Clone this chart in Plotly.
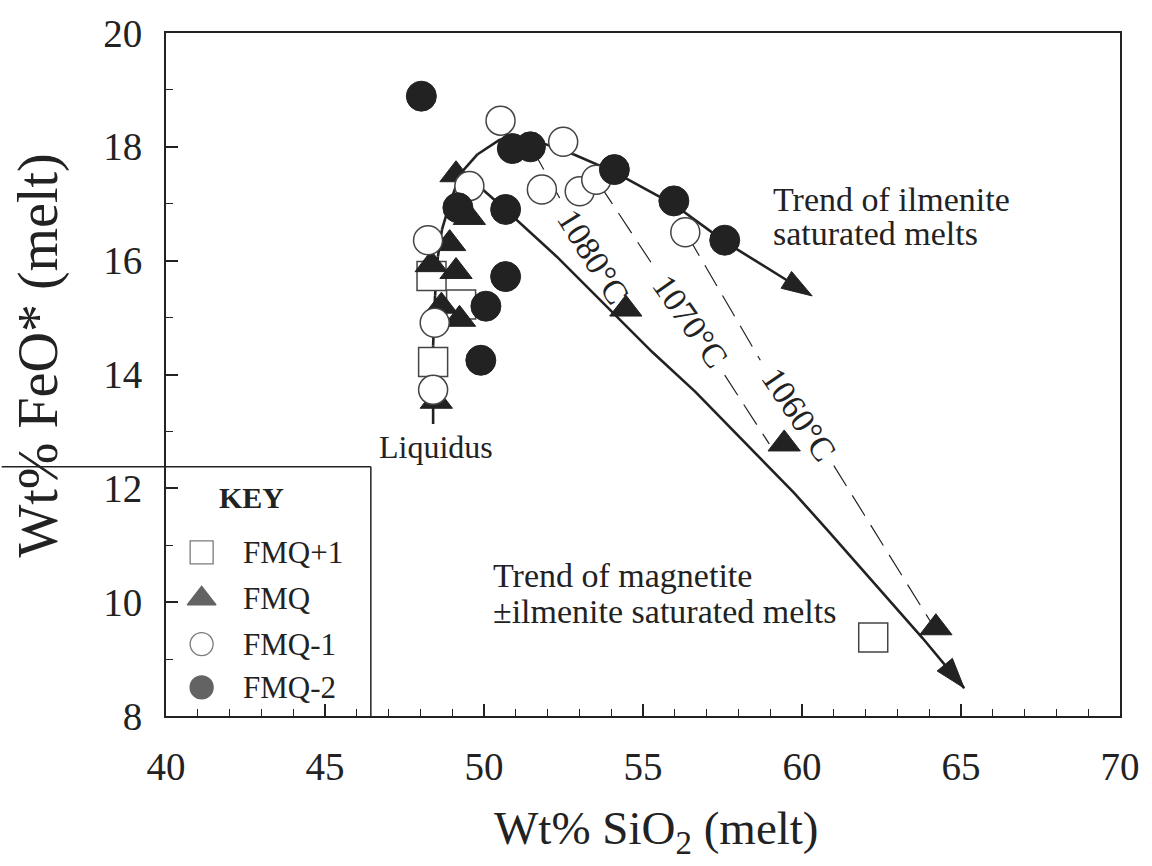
import plotly.graph_objects as go

# ---------------- data (Wt% SiO2, Wt% FeO*) ----------------
# FMQ+1 (open squares)
fmq_p1_sio2 = [48.35, 49.28, 48.40, 62.24]
fmq_p1_feo = [15.73, 15.23, 14.22, 9.38]

# FMQ (filled triangles)
fmq_sio2 = [49.12, 49.54, 48.92, 49.12, 48.66, 49.23, 48.50, 48.34, 54.46, 59.44, 64.21]
fmq_feo = [17.51, 16.76, 16.30, 15.81, 15.20, 14.97, 13.53, 15.93, 15.15, 12.78, 9.55]

# FMQ-1 (open circles)
fmq_m1_sio2 = [50.52, 52.49, 51.82, 53.01, 53.53, 56.33, 49.54, 48.24, 48.45, 48.40]
fmq_m1_feo = [18.46, 18.09, 17.25, 17.22, 17.42, 16.50, 17.31, 16.36, 14.91, 13.73]

# FMQ-2 (filled circles)
fmq_m2_sio2 = [48.03, 50.89, 51.46, 54.10, 55.97, 57.57, 49.18, 50.68, 50.68, 50.06, 49.90]
fmq_m2_feo = [18.89, 17.97, 18.00, 17.60, 17.05, 16.36, 16.93, 16.90, 15.72, 15.20, 14.25]

# Trend curves
ilm_trend_sio2 = [48.40, 48.40, 48.46, 48.55, 48.68, 48.93, 49.27, 49.80, 50.51, 51.20,
                  51.82, 52.81, 54.09, 55.96, 57.58, 60.32]
ilm_trend_feo = [13.13, 14.51, 15.38, 16.07, 16.55, 17.02, 17.54, 17.87, 18.13, 18.16,
                 18.07, 17.87, 17.56, 16.99, 16.33, 15.38]
mag_trend_sio2 = [49.80, 50.67, 52.29, 53.53, 55.30, 56.64, 59.75, 60.78, 62.24, 63.79, 65.10]
mag_trend_feo = [17.33, 16.90, 16.07, 15.38, 14.39, 13.70, 11.92, 11.28, 10.36, 9.37, 8.49]

# Isotherms (dashed; None = gap for the label)
iso_1080_sio2 = [51.51, 52.38]
iso_1080_feo = [17.97, 17.10]
iso_1070_sio2 = [53.62, 55.30, None, 57.57, 58.97]
iso_1070_feo = [17.35, 15.93, None, 13.99, 12.78]
iso_1060_sio2 = [56.39, 58.69, None, 61.00, 64.04]
iso_1060_feo = [16.45, 14.25, None, 12.40, 9.66]

iso_labels = ["1080°C", "1070°C", "1060°C"]
iso_label_sio2 = [53.43, 56.49, 59.91]
iso_label_feo = [16.07, 14.93, 13.30]
iso_label_angle = [58, 55, 56]

x_ticks = [40, 45, 50, 55, 60, 65, 70]
y_ticks = [8, 10, 12, 14, 16, 18, 20]

key_labels = ["FMQ+1", "FMQ", "FMQ-1", "FMQ-2"]

# ---------------- styling ----------------
INK = "#222222"
FONT = "Liberation Serif"
W, H = 1152, 866
ML, MR, MT, MB = 166, 22, 23, 150
PW, PH = W - ML - MR, H - MT - MB


def px2paper(px, py):
    return (px - ML) / PW, (H - MB - py) / PH


fig = go.Figure()

# trend lines with arrow heads at their ends
for xs, ys in [(ilm_trend_sio2, ilm_trend_feo), (mag_trend_sio2, mag_trend_feo)]:
    n = len(xs)
    fig.add_trace(go.Scatter(
        x=xs, y=ys, mode="lines+markers", showlegend=False, hoverinfo="skip",
        line=dict(color=INK, width=2.6),
        marker=dict(symbol="arrow", angleref="previous", size=[0] * (n - 1) + [32],
                    color=INK, opacity=1, line=dict(width=1, color=INK))))

for xs, ys in [(iso_1080_sio2, iso_1080_feo), (iso_1070_sio2, iso_1070_feo),
               (iso_1060_sio2, iso_1060_feo)]:
    fig.add_trace(go.Scatter(x=xs, y=ys, mode="lines", connectgaps=False,
                             line=dict(color=INK, width=1.2, dash="24px,11px"),
                             showlegend=False, hoverinfo="skip"))

# markers
fig.add_trace(go.Scatter(x=fmq_p1_sio2, y=fmq_p1_feo, mode="markers", name="FMQ+1",
                         marker=dict(symbol="square", size=29, color="white",
                                     line=dict(color="#444", width=1.5)), showlegend=False))
fig.add_trace(go.Scatter(x=fmq_sio2, y=fmq_feo, mode="markers", name="FMQ",
                         marker=dict(symbol="triangle-up", size=28, color=INK,
                                     line=dict(color=INK, width=1)), showlegend=False))
fig.add_trace(go.Scatter(x=fmq_m1_sio2, y=fmq_m1_feo, mode="markers", name="FMQ-1",
                         marker=dict(symbol="circle", size=29, color="white",
                                     line=dict(color="#444", width=1.5)), showlegend=False))
fig.add_trace(go.Scatter(x=fmq_m2_sio2, y=fmq_m2_feo, mode="markers", name="FMQ-2",
                         marker=dict(symbol="circle", size=30, color=INK,
                                     line=dict(color=INK, width=1)), showlegend=False))

# key symbols on an overlay pixel axis
key_rows_py = [550, 597, 643, 687]
key_sym_px = 202
fig.add_trace(go.Scatter(
    x=[key_sym_px - ML] * len(key_labels),
    y=[H - MB - p for p in key_rows_py],
    mode="markers", xaxis="x2", yaxis="y2", showlegend=False, hoverinfo="skip",
    marker=dict(symbol=["square", "triangle-up", "circle", "circle"], size=[23, 25, 23, 23],
                color=["white", INK, "white", INK],
                line=dict(color=["#444", INK, "#444", INK], width=1.3)),
    cliponaxis=False))

annotations = []
for lab, py in zip(key_labels, key_rows_py):
    xp, yp = px2paper(242, py)
    annotations.append(dict(x=xp, y=yp, xref="paper", yref="paper", text=lab, showarrow=False,
                            xanchor="left", yanchor="middle",
                            font=dict(size=31, color=INK, family=FONT)))
xp, yp = px2paper(252, 494)
annotations.append(dict(x=xp, y=yp, xref="paper", yref="paper", text="<b>KEY</b>", showarrow=False,
                        xanchor="center", yanchor="middle",
                        font=dict(size=30, color=INK, family=FONT)))

# isotherm labels
for lab, xv, yv, ang in zip(iso_labels, iso_label_sio2, iso_label_feo, iso_label_angle):
    annotations.append(dict(x=xv, y=yv, xref="x", yref="y", text=lab, showarrow=False,
                            xanchor="center", yanchor="middle",
                            textangle=ang, font=dict(size=34, color=INK, family=FONT)))

# trend text
annotations += [
    dict(x=59.04, y=17.07, xref="x", yref="y", text="Trend of ilmenite", showarrow=False,
         xanchor="left", yanchor="middle", font=dict(size=34, color=INK, family=FONT)),
    dict(x=59.04, y=16.47, xref="x", yref="y", text="saturated melts", showarrow=False,
         xanchor="left", yanchor="middle", font=dict(size=34, color=INK, family=FONT)),
    dict(x=50.23, y=10.46, xref="x", yref="y", text="Trend of magnetite", showarrow=False,
         xanchor="left", yanchor="middle", font=dict(size=34, color=INK, family=FONT)),
    dict(x=50.23, y=9.84, xref="x", yref="y", text="±ilmenite saturated melts", showarrow=False,
         xanchor="left", yanchor="middle", font=dict(size=34, color=INK, family=FONT)),
    dict(x=48.48, y=12.73, xref="x", yref="y", text="Liquidus", showarrow=False,
         xanchor="center", yanchor="middle", font=dict(size=32, color=INK, family=FONT)),
]

# axis titles
xp, yp = px2paper(662, 833)
annotations.append(dict(x=xp, y=yp, xref="paper", yref="paper", text="Wt% SiO<sub>2</sub> (melt)",
                        showarrow=False, xanchor="center", yanchor="middle",
                        font=dict(size=47, color=INK, family=FONT)))
xp, yp = px2paper(37, 350)
annotations.append(dict(x=xp, y=yp, xref="paper", yref="paper", text="Wt% FeO* (melt)",
                        showarrow=False, textangle=-90, xanchor="center", yanchor="middle",
                        font=dict(size=56, color=INK, family=FONT)))

# key box
kx0, _ = px2paper(0, 0)
kx1, ky1 = px2paper(373, 463)
shapes = [
    dict(type="line", xref="paper", yref="paper", x0=kx0, x1=kx1, y0=ky1, y1=ky1,
         line=dict(color=INK, width=1.5)),
    dict(type="line", xref="paper", yref="paper", x0=kx1, x1=kx1, y0=0, y1=ky1,
         line=dict(color=INK, width=1.5)),
]

axis_common = dict(showline=True, linecolor=INK, linewidth=2, mirror=True, showgrid=False,
                   zeroline=False, ticks="inside", ticklen=12, tickwidth=1.5, tickcolor=INK,
                   tickfont=dict(size=39, color=INK, family=FONT))

fig.update_layout(
    width=W, height=H, margin=dict(l=ML, r=MR, t=MT, b=MB),
    paper_bgcolor="white", plot_bgcolor="white",
    font=dict(family=FONT, color=INK),
    xaxis=dict(range=[40, 70], tickvals=x_ticks, ticklabelstandoff=15,
               minor=dict(dtick=1, ticklen=7, ticks="inside", tickwidth=1.2, tickcolor=INK),
               **axis_common),
    yaxis=dict(range=[8, 20], tickvals=y_ticks, ticklabelstandoff=14,
               minor=dict(dtick=1, ticklen=7, ticks="inside", tickwidth=1.2, tickcolor=INK),
               **axis_common),
    xaxis2=dict(overlaying="x", range=[0, PW], visible=False, fixedrange=True),
    yaxis2=dict(overlaying="y", range=[0, PH], visible=False, fixedrange=True),
    annotations=annotations, shapes=shapes, showlegend=False,
)

fig.write_html("out.html")
